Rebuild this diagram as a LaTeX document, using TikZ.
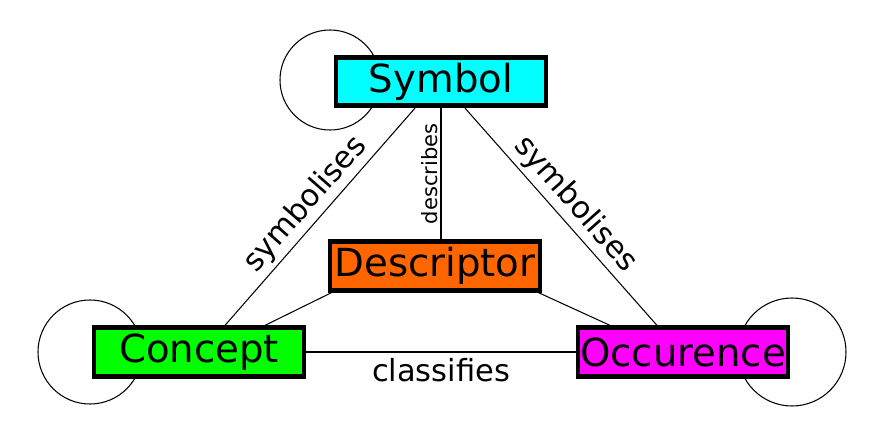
\documentclass[tikz,border=0pt]{standalone}
\usepackage{fontspec}
\setmainfont{DejaVu Sans}
\definecolor{symcol}{RGB}{0,255,255}
\definecolor{descol}{RGB}{255,102,0}
\definecolor{concol}{RGB}{0,255,0}
\definecolor{occcol}{RGB}{255,0,255}
\tikzset{
  box/.style={draw, line width=4.2pt, minimum width=6.3cm, minimum height=1.45cm, inner sep=0pt, font=\fontsize{33}{36}\selectfont},
  rel/.style={font=\fontsize{26}{29}\selectfont},
  every path/.style={line width=0.9pt}
}
\begin{document}
\begin{tikzpicture}[x=0.03cm, y=-0.03cm]
\useasboundingbox (0,0) rectangle (883,441);

% Schleifen
\draw (330,80) circle[radius=1.5cm];
\draw (90,352) circle[radius=1.56cm];
\draw (792,352) circle[radius=1.62cm];

% Begriffe
\node[box, fill=symcol] (S) at (441,81.5) {Symbol};
\node[box, fill=descol] (D) at (435,266) {Descriptor};
\node[box, fill=concol] (C) at (199,352) {Concept};
\node[box, fill=occcol] (O) at (683,352) {Occurence};

% Beziehungen
\draw (S.south -| 415,0) -- node[rel, midway, sloped, above] {symbolises} (C.north -| 225,0);
\draw (S.south -| 465,0) -- node[rel, midway, sloped, above] {symbolises} (O.north -| 657,0);
\draw (D.north -| 441,0) -- node[midway, sloped, above, inner sep=2pt, font=\fontsize{18}{20}\selectfont] {describes} (S.south -| 441,0);
\draw (D.south west) ++(4,0) coordinate (d1) -- (C.north east -| 265,0);
\draw (D.south east) ++(-4,0) coordinate (d2) -- (O.north west -| 610,0);
\draw (C) -- node[rel, midway, below=2pt] {classifies} (O);

\end{tikzpicture}
\end{document}
